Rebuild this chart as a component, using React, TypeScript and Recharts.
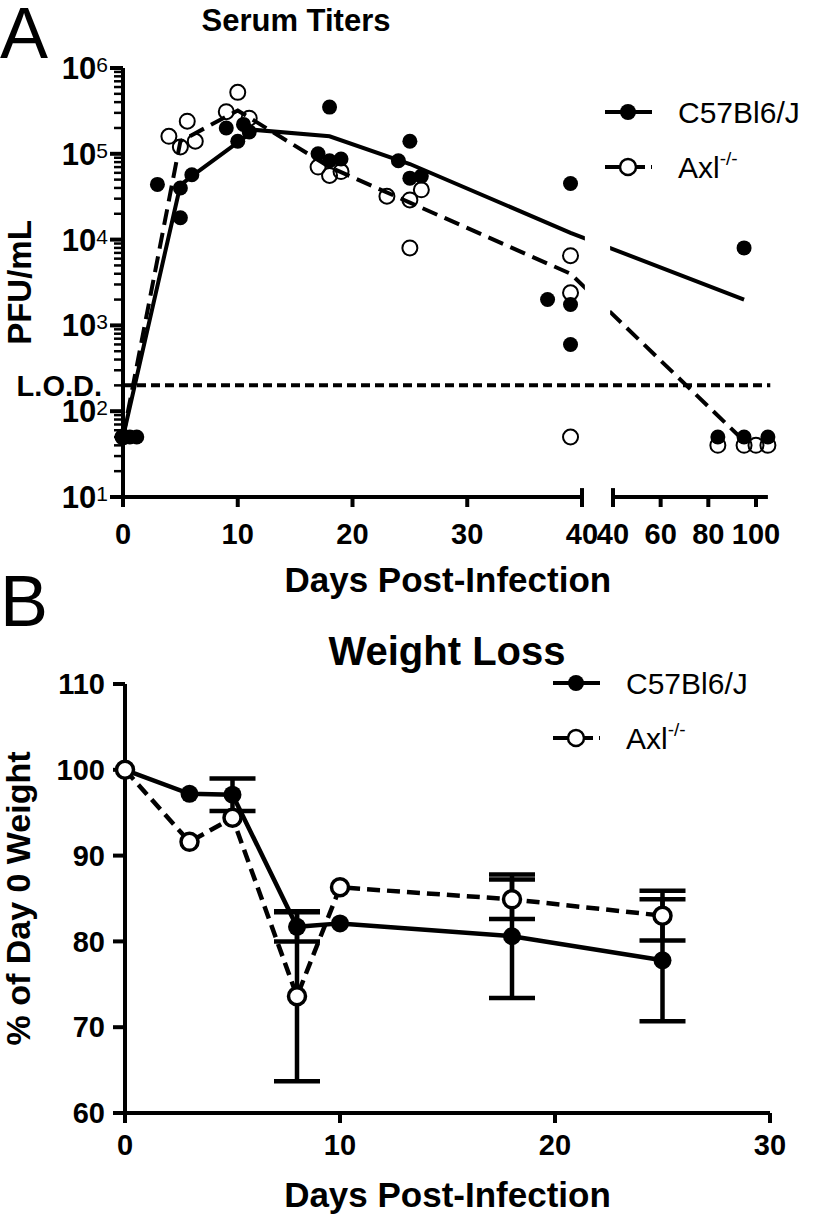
import React from "react";
import {
  ComposedChart,
  ErrorBar,
  Line,
  ReferenceArea,
  ReferenceLine,
  Scatter,
  XAxis,
  YAxis,
} from "recharts";

const FONT = "'Liberation Sans', Arial, Helvetica, sans-serif";
const INK = "#000";

// ---------- Panel A: serum titers, [day, PFU/mL] ----------
const c57Titers = [
  [0, 50], [0.6, 50], [1.2, 50],
  [3, 44000], [5, 40000], [5, 18000], [6, 57000],
  [9, 200000], [10, 140000], [10.5, 220000], [11, 180000],
  [17, 100000], [18, 350000], [18, 83000], [19, 87000],
  [24, 83000], [25, 140000], [25, 52000], [26, 55000],
  [37, 2000], [39, 45000], [39, 1750], [39, 600],
  [84, 50], [95, 8000], [95, 50], [105, 50],
];
const axlTiters = [
  [0, 50],
  [4, 160000], [5, 120000], [5.6, 240000], [6.3, 140000],
  [9, 310000], [10, 520000], [11, 260000],
  [17, 70000], [18, 56000], [19, 62000], [23, 32000],
  [25, 29000], [25, 8000], [26, 38000],
  [39, 6500], [39, 2400], [39, 50],
  [84, 40], [95, 40], [100, 40], [105, 40],
];
const c57TiterMean = [
  [0, 50], [5, 43000], [6, 55000], [11.5, 190000], [18, 160000],
  [25, 76000], [39, 12000], [95, 2000],
];
const axlTiterMean = [
  [0, 50], [5, 140000], [10, 320000], [18, 70000], [25, 27000],
  [39, 4000], [95, 45],
];
const LOD = 200;
const titerDecades = [1, 2, 3, 4, 5, 6];
const dayTicksHead = [0, 10, 20, 30, 40];
const dayTicksTail = [40, 60, 80, 100];

// ---------- Panel B: weight, % of day 0 ----------
const weightDays = [0, 3, 5, 8, 10, 18, 25];
const c57Weight = [100, 97.2, 97.1, 81.7, 82.1, 80.6, 77.8];
const c57WeightSd = [null, null, 1.9, 1.7, null, 7.2, 7.1];
const axlWeight = [100, 91.6, 94.4, 73.6, 86.3, 84.9, 83.0];
const axlWeightSd = [null, null, null, 9.9, null, 2.3, 2.9];
const weightTicksX = [0, 10, 20, 30];
const weightTicksY = [60, 70, 80, 90, 100, 110];

const SERIES = ["C57Bl6/J", "Axl"];

// broken x axis: 0-40 at full scale, then 40-105 compressed after a gap
const BREAK = 40;
const GAP = 2.7;
const TAIL = 0.2077;
const toAxis = (day: number, tail = day > BREAK) =>
  tail ? BREAK + GAP + (day - BREAK) * TAIL : day;

const dayTicks = [
  ...dayTicksHead.map((d) => ({ v: toAxis(d, false), label: d })),
  ...dayTicksTail.map((d) => ({ v: toAxis(d, true), label: d })),
];
const logTicks: number[] = [];
titerDecades.forEach((p) => {
  if (p === 6) logTicks.push(1e6);
  else for (let m = 1; m <= 9; m++) logTicks.push(m * Math.pow(10, p));
});

const toPts = (rows: number[][]) => rows.map(([d, v]) => ({ x: toAxis(d), y: v }));
const c57Pts = toPts(c57Titers);
const axlPts = toPts(axlTiters);
const c57MeanPts = toPts(c57TiterMean);
const axlMeanPts = toPts(axlTiterMean);

const weightRows = weightDays.map((day, i) => ({
  day,
  c57: c57Weight[i],
  c57Sd: c57WeightSd[i],
  axl: axlWeight[i],
  axlSd: axlWeightSd[i],
}));

// layout
const W = 817;
const A_H = 610;
const A_TOP = 68;
const A_LEFT = 123;
const A_XH = 113;
const A_PX = 459 / 40;
const A_MAX = toAxis(107, true);
const A_RIGHT = W - A_LEFT - A_MAX * A_PX;
const B_TOP = 610;
const B_H = 606;

function LogTick(props: any) {
  const { x, y, payload } = props;
  const p = Math.log10(payload.value);
  const major = Math.abs(p - Math.round(p)) < 1e-6;
  return (
    <g>
      <line x1={x - (major ? 13 : 9)} x2={x} y1={y} y2={y} stroke={INK} strokeWidth={major ? 4 : 2.5} />
      {major && (
        <text x={x - 15} y={y + 11} textAnchor="end" fontFamily={FONT} fill={INK}>
          <tspan fontSize={31} fontWeight="bold">10</tspan>
          <tspan fontSize={21} dy={-7}>{Math.round(p)}</tspan>
        </text>
      )}
    </g>
  );
}

function DayTick(props: any) {
  const { x, y, payload } = props;
  const t = dayTicks.find((d) => Math.abs(d.v - payload.value) < 1e-6);
  return (
    <text x={x} y={y + 37} textAnchor="middle" fontFamily={FONT} fontSize={29} fontWeight="bold" fill={INK}>
      {t ? t.label : ""}
    </text>
  );
}

const filledDot = (r: number) => (p: any) => <circle cx={p.cx} cy={p.cy} r={r} fill={INK} />;
const openDot = (r: number, w: number, fill: string) => (p: any) => (
  <circle cx={p.cx} cy={p.cy} r={r} fill={fill} stroke={INK} strokeWidth={w} />
);

function LegendRows({ x, y, step }: { x: number; y: number; step: number }) {
  return (
    <g fontFamily={FONT} fill={INK}>
      <line x1={x} x2={x + 47} y1={y} y2={y} stroke={INK} strokeWidth={4} />
      <circle cx={x + 23} cy={y} r={8} fill={INK} />
      <text x={x + 73} y={y + 11} fontSize={30}>{SERIES[0]}</text>
      <line x1={x} x2={x + 47} y1={y + step} y2={y + step} stroke={INK} strokeWidth={4} strokeDasharray="22 6 12 6" />
      <circle cx={x + 23} cy={y + step} r={8} fill="#fff" stroke={INK} strokeWidth={2.5} />
      <text x={x + 73} y={y + step + 11} fontSize={30}>
        {SERIES[1]}
        <tspan fontSize={19} dy={-13}>-/-</tspan>
      </text>
    </g>
  );
}

const innerMarginA = { top: A_TOP, right: A_RIGHT, bottom: A_XH, left: A_LEFT };

export default function App() {
  return (
    <div style={{ position: "absolute", left: 0, top: 0, width: W, height: 1216, background: "#fff" }}>
      {/* A, layer 1: group means */}
      <div style={{ position: "absolute", left: 0, top: 0 }}>
        <ComposedChart width={W} height={A_H} margin={innerMarginA}>
          <XAxis type="number" dataKey="x" domain={[0, A_MAX]} hide />
          <YAxis type="number" dataKey="y" scale="log" domain={[10, 1e6]} hide />
          <Line data={c57MeanPts} dataKey="y" type="linear" stroke={INK} strokeWidth={4} dot={false} isAnimationActive={false} />
          <Line data={axlMeanPts} dataKey="y" type="linear" stroke={INK} strokeWidth={4} strokeDasharray="16 8" dot={false} isAnimationActive={false} />
        </ComposedChart>
      </div>
      {/* A, layer 2: white gap over the means at the axis break */}
      <div style={{ position: "absolute", left: 0, top: 0 }}>
        <ComposedChart width={W} height={A_H} margin={innerMarginA}>
          <XAxis type="number" dataKey="x" domain={[0, A_MAX]} hide />
          <YAxis type="number" dataKey="y" scale="log" domain={[10, 1e6]} hide />
          <Line data={c57MeanPts} dataKey="y" stroke="none" dot={false} isAnimationActive={false} />
          <ReferenceArea
            x1={BREAK + 0.25}
            x2={BREAK + GAP - 0.25}
            y1={10}
            y2={1e6}
            fill="#fff"
            fillOpacity={1}
            stroke="none"
            ifOverflow="visible"
          />
        </ComposedChart>
      </div>
      {/* A, layer 3: axes, limit of detection, individual mice */}
      <div style={{ position: "absolute", left: 0, top: 0 }}>
        <ComposedChart width={W} height={A_H} margin={{ top: A_TOP, right: A_RIGHT, bottom: 0, left: 0 }}>
          <XAxis
            type="number"
            dataKey="x"
            domain={[0, A_MAX]}
            ticks={dayTicks.map((t) => t.v)}
            interval={0}
            tick={(p: any) => <DayTick {...p} />}
            tickSize={10}
            tickMargin={0}
            tickLine={{ stroke: INK, strokeWidth: 4 }}
            axisLine={false}
            height={A_XH}
            label={{
              value: "Days Post-Infection",
              position: "insideBottom",
              offset: 18,
              style: { fill: INK, fontSize: 35, fontWeight: "bold", fontFamily: FONT },
            }}
          />
          <YAxis
            type="number"
            dataKey="y"
            scale="log"
            domain={[10, 1e6]}
            ticks={logTicks}
            interval={0}
            tick={(p: any) => <LogTick {...p} />}
            tickLine={false}
            tickSize={0}
            tickMargin={0}
            axisLine={{ stroke: INK, strokeWidth: 4 }}
            width={A_LEFT}
            label={{
              value: "PFU/mL",
              angle: -90,
              position: "insideLeft",
              offset: 19,
              style: { textAnchor: "middle", fill: INK, fontSize: 33, fontWeight: "bold", fontFamily: FONT },
            }}
          />
          <ReferenceLine segment={[{ x: 0, y: 10 }, { x: BREAK, y: 10 }]} stroke={INK} strokeWidth={4} ifOverflow="visible" />
          <ReferenceLine segment={[{ x: BREAK + GAP, y: 10 }, { x: toAxis(105, true), y: 10 }]} stroke={INK} strokeWidth={4} ifOverflow="visible" />
          <ReferenceLine segment={[{ x: BREAK, y: 10 }, { x: BREAK, y: 12.7 }]} stroke={INK} strokeWidth={4} ifOverflow="visible" />
          <ReferenceLine segment={[{ x: BREAK + GAP, y: 10 }, { x: BREAK + GAP, y: 12.7 }]} stroke={INK} strokeWidth={4} ifOverflow="visible" />
          <ReferenceLine
            segment={[{ x: 0, y: LOD }, { x: toAxis(106, true), y: LOD }]}
            stroke={INK}
            strokeWidth={4}
            strokeDasharray="9 5"
            ifOverflow="visible"
            label={{ value: "L.O.D.", position: "left", offset: 21, fill: INK, fontSize: 29, fontWeight: "bold", fontFamily: FONT }}
          />
          <Scatter data={axlPts} dataKey="y" shape={openDot(7.5, 2, "none")} isAnimationActive={false} />
          <Scatter data={c57Pts} dataKey="y" shape={filledDot(7.5)} isAnimationActive={false} />
        </ComposedChart>
      </div>

      {/* B: weight loss */}
      <div style={{ position: "absolute", left: 0, top: B_TOP }}>
        <ComposedChart width={W} height={B_H} data={weightRows} margin={{ top: 74, right: 47, bottom: 0, left: 0 }}>
          <XAxis
            type="number"
            dataKey="day"
            domain={[0, 30]}
            ticks={weightTicksX}
            interval={0}
            tickSize={10}
            tickMargin={11}
            tick={{ fill: INK, fontSize: 29, fontWeight: "bold", fontFamily: FONT }}
            tickLine={{ stroke: INK, strokeWidth: 4 }}
            axisLine={{ stroke: INK, strokeWidth: 4 }}
            height={103}
            label={{
              value: "Days Post-Infection",
              position: "insideBottom",
              offset: 9,
              style: { fill: INK, fontSize: 35, fontWeight: "bold", fontFamily: FONT },
            }}
          />
          <YAxis
            type="number"
            domain={[60, 110]}
            ticks={weightTicksY}
            interval={0}
            tickSize={12}
            tickMargin={8}
            tick={{ fill: INK, fontSize: 29, fontWeight: "bold", fontFamily: FONT }}
            tickLine={{ stroke: INK, strokeWidth: 4 }}
            axisLine={{ stroke: INK, strokeWidth: 4 }}
            width={125}
            label={{
              value: "% of Day 0 Weight",
              angle: -90,
              position: "insideLeft",
              offset: 18,
              style: { textAnchor: "middle", fill: INK, fontSize: 34, fontWeight: "bold", fontFamily: FONT },
            }}
          />
          <Line dataKey="c57" type="linear" stroke={INK} strokeWidth={4.5} dot={filledDot(9)} isAnimationActive={false} />
          <Line dataKey="axl" type="linear" stroke={INK} strokeWidth={4.5} strokeDasharray="13 7" dot={openDot(8.5, 3.5, "#fff")} isAnimationActive={false}>
            <ErrorBar dataKey="axlSd" direction="y" width={23} stroke={INK} strokeWidth={4.5} />
          </Line>
          <Line dataKey="c57" type="linear" stroke="none" dot={false} isAnimationActive={false}>
            <ErrorBar dataKey="c57Sd" direction="y" width={23} stroke={INK} strokeWidth={4.5} />
          </Line>
        </ComposedChart>
      </div>

      {/* panel letters, titles, legends */}
      <svg width={W} height={1216} style={{ position: "absolute", left: 0, top: 0, pointerEvents: "none" }}>
        <text x={0} y={58} fontFamily={FONT} fontSize={72} fill={INK}>A</text>
        <text x={296} y={31} textAnchor="middle" fontFamily={FONT} fontSize={31} fontWeight="bold" fill={INK}>
          Serum Titers
        </text>
        <LegendRows x={605} y={112} step={55} />
        <text x={0} y={626} fontFamily={FONT} fontSize={72} fill={INK}>B</text>
        <text x={447} y={665} textAnchor="middle" fontFamily={FONT} fontSize={40} fontWeight="bold" fill={INK}>
          Weight Loss
        </text>
        <LegendRows x={553} y={683} step={55} />
      </svg>
    </div>
  );
}
